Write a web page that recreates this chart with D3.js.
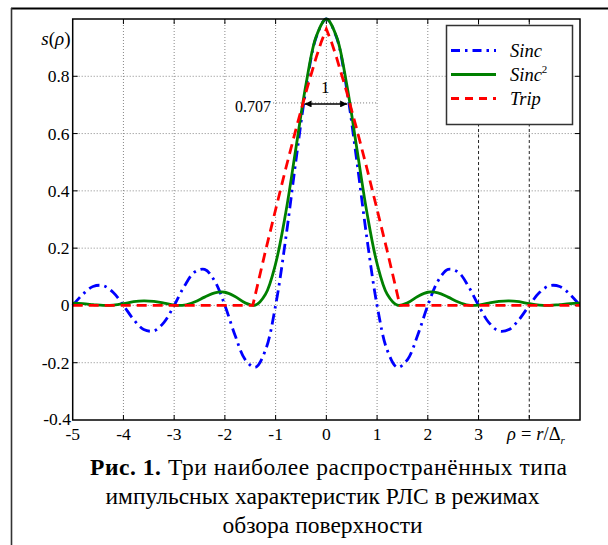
<!DOCTYPE html>
<html>
<head>
<meta charset="utf-8">
<script src="https://cdn.jsdelivr.net/npm/d3@7"></script>
<style>
  body { margin: 0; background: #fff; }
  svg { display: block; }
</style>
</head>
<body>
<svg id="chart" width="608" height="545"></svg>
<script>
// Tick values
const xTickValues = [-5, -4, -3, -2, -1, 0, 1, 2, 3];
const xGridValues = [-4, -3, -2, -1, 0, 1, 2, 3, 4];
const yTickValues = [-0.4, -0.2, 0, 0.2, 0.4, 0.6, 0.8];
const yGridValues = [-0.2, 0, 0.2, 0.4, 0.6, 0.8];

// Sample positions rho = r / Δr
const rho = [-5, -4.8, -4.6, -4.4, -4.2, -4, -3.8, -3.6, -3.4, -3.2, -3, -2.8, -2.6, -2.4, -2.2, -2,
  -1.8, -1.6, -1.4, -1.2, -1, -0.8, -0.6, -0.4, -0.2, 0, 0.2, 0.4, 0.6, 0.8, 1, 1.2, 1.4, 1.6, 1.8,
  2, 2.2, 2.4, 2.6, 2.8, 3, 3.2, 3.4, 3.6, 3.8, 4, 4.2, 4.4, 4.6, 4.8, 5];

// Sinc response
const sincValues = [0, 0.039, 0.066, 0.069, 0.045, 0, -0.049, -0.084, -0.089, -0.059, 0, 0.067, 0.116, 0.126, 0.085, 0,
  -0.104, -0.189, -0.216, -0.156, 0, 0.234, 0.505, 0.757, 0.936, 1, 0.936, 0.757, 0.505, 0.234, 0, -0.156, -0.216, -0.189, -0.104,
  0, 0.085, 0.126, 0.116, 0.067, 0, -0.059, -0.089, -0.084, -0.049, 0, 0.045, 0.069, 0.066, 0.039, 0];

// Sinc^2 response
const sinc2Values = [0.008, 0.006, 0.003, 0.000, 0.001, 0.006, 0.013, 0.016, 0.014, 0.008, 0.001, 0.001, 0.012, 0.029, 0.044, 0.046,
  0.031, 0.009, 0.001, 0.039, 0.146, 0.324, 0.549, 0.773, 0.939, 1, 0.939, 0.773, 0.549, 0.324, 0.146, 0.039, 0.001, 0.009, 0.031,
  0.046, 0.044, 0.029, 0.012, 0.001, 0.001, 0.008, 0.014, 0.016, 0.013, 0.006, 0.001, 0.000, 0.003, 0.006, 0.008];

// Trip response (vertices)
const tripRho = [-5, -1.45, -1.2, -1.0, -0.8, -0.6, -0.4, -0.2, -0.1, 0, 0.1, 0.2, 0.4, 0.6, 0.8, 1.0, 1.2, 1.45, 5];
const tripValues = [0, 0, 0.19, 0.335, 0.478, 0.615, 0.746, 0.866, 0.92, 0.965, 0.92, 0.866, 0.746, 0.615, 0.478, 0.335, 0.19, 0, 0];

// Half-power annotation
const halfLevel = 0.707;
const halfWidthEnds = [-0.43, 0.41];
const halfLineEnds = [-1.05, 1.0];
const widthLabel = "1";

const legendNames = ["Sinc", "Sinc", "Trip"];
const legendSup = ["", "2", ""];

const FONT = "'Liberation Serif', serif";
const svg = d3.select("#chart").style("font-family", FONT);
svg.append("rect").attr("width", 608).attr("height", 545).attr("fill", "#fff");

const plotLeft = 72.7, plotRight = 580, plotTop = 19, plotBottom = 420;
const x = d3.scaleLinear().domain([-5, 5]).range([plotLeft, plotRight]);
const y = d3.scaleLinear().domain([-0.4, 1.0]).range([plotBottom, plotTop]);

function label(sel) {
  return sel.append("text").style("font-family", FONT).attr("fill", "#000");
}

// outer page frame
svg.append("line").attr("x1", 11).attr("x2", 608).attr("y1", 8.5).attr("y2", 8.5)
  .attr("stroke", "#000").attr("stroke-width", 2.2);
svg.append("line").attr("x1", 11.5).attr("x2", 11.5).attr("y1", 8).attr("y2", 545)
  .attr("stroke", "#333").attr("stroke-width", 1.6);

// grid
const grid = svg.append("g");
grid.selectAll("line.vx").data(xGridValues).join("line")
  .attr("x1", d => x(d)).attr("x2", d => x(d)).attr("y1", plotTop).attr("y2", plotBottom)
  .attr("stroke", d => d >= 3 ? "#222" : "#888")
  .attr("stroke-width", 1)
  .attr("stroke-dasharray", d => d >= 3 ? "3,2.5" : "1,2");
grid.selectAll("line.hy").data(yGridValues).join("line")
  .attr("x1", plotLeft).attr("x2", plotRight).attr("y1", d => y(d)).attr("y2", d => y(d))
  .attr("stroke", "#888").attr("stroke-width", 1).attr("stroke-dasharray", "1,2");

// inward tick marks on all four sides
const tk = svg.append("g").attr("stroke", "#000").attr("stroke-width", 1);
xGridValues.forEach(v => {
  tk.append("line").attr("x1", x(v)).attr("x2", x(v)).attr("y1", plotBottom).attr("y2", plotBottom - 5);
  tk.append("line").attr("x1", x(v)).attr("x2", x(v)).attr("y1", plotTop).attr("y2", plotTop + 5);
});
yGridValues.forEach(v => {
  tk.append("line").attr("x1", plotLeft).attr("x2", plotLeft + 5).attr("y1", y(v)).attr("y2", y(v));
  tk.append("line").attr("x1", plotRight).attr("x2", plotRight - 5).attr("y1", y(v)).attr("y2", y(v));
});

// 0.707 reference line
svg.append("line")
  .attr("x1", x(halfLineEnds[0])).attr("x2", x(halfLineEnds[1]))
  .attr("y1", y(halfLevel)).attr("y2", y(halfLevel))
  .attr("stroke", "#777").attr("stroke-width", 1).attr("stroke-dasharray", "1,2");

// curves
const smooth = d3.line().x(d => x(d[0])).y(d => y(d[1])).curve(d3.curveCatmullRom.alpha(0.5));
const straight = d3.line().x(d => x(d[0])).y(d => y(d[1]));
const plot = svg.append("g");
plot.append("path").datum(d3.zip(rho, sincValues)).attr("d", smooth)
  .attr("fill", "none").attr("stroke", "#0000ff").attr("stroke-width", 2.8)
  .attr("stroke-dasharray", "11,5,2.5,5");
plot.append("path").datum(d3.zip(rho, sinc2Values)).attr("d", smooth)
  .attr("fill", "none").attr("stroke", "#008000").attr("stroke-width", 2.8);
plot.append("path").datum(d3.zip(tripRho, tripValues)).attr("d", straight)
  .attr("fill", "none").attr("stroke", "#ff0000").attr("stroke-width", 2.8)
  .attr("stroke-dasharray", "10,6");

// width arrow
const defs = svg.append("defs");
defs.append("marker").attr("id", "ah").attr("viewBox", "0 0 10 10")
  .attr("refX", 10).attr("refY", 5).attr("markerWidth", 9).attr("markerHeight", 7)
  .attr("markerUnits", "userSpaceOnUse").attr("orient", "auto-start-reverse")
  .append("path").attr("d", "M0,0 L10,5 L0,10 Z").attr("fill", "#000");
svg.append("line")
  .attr("x1", x(halfWidthEnds[0])).attr("x2", x(halfWidthEnds[1]))
  .attr("y1", y(halfLevel) + 1).attr("y2", y(halfLevel) + 1)
  .attr("stroke", "#000").attr("stroke-width", 1.5)
  .attr("marker-start", "url(#ah)").attr("marker-end", "url(#ah)");
label(svg).attr("x", x(0) - 1).attr("y", y(halfLevel) - 10)
  .attr("text-anchor", "middle").attr("font-size", 17).text(widthLabel);
label(svg).attr("x", x(halfLineEnds[0]) - 2).attr("y", y(halfLevel) + 9)
  .attr("text-anchor", "end").attr("font-size", 16).text(halfLevel.toFixed(3));

// plot frame
svg.append("rect").attr("x", plotLeft).attr("y", plotTop).attr("width", plotRight - plotLeft).attr("height", plotBottom - plotTop)
  .attr("fill", "none").attr("stroke", "#000").attr("stroke-width", 1.5);

// tick labels
const yl = svg.append("g");
yTickValues.forEach(d => {
  label(yl).attr("x", d === -0.4 ? 71 : 69.5).attr("y", y(d) + (d === -0.4 ? 4.5 : 6))
    .attr("text-anchor", "end").attr("font-size", 17.5)
    .text(d === 0 ? "0" : d3.format(".1f")(d).replace("−", "-"));
});
const xl = svg.append("g");
xTickValues.forEach(d => {
  label(xl).attr("x", x(d)).attr("y", 439.5)
    .attr("text-anchor", "middle").attr("font-size", 17.5)
    .text(String(d));
});

// axis titles
const yt = label(svg).attr("x", 70.5).attr("y", 45).attr("text-anchor", "end").attr("font-size", 19);
yt.append("tspan").attr("font-style", "italic").text("s");
yt.append("tspan").text("(");
yt.append("tspan").attr("font-style", "italic").text("ρ");
yt.append("tspan").text(")");

const xt = label(svg).attr("x", 507).attr("y", 439.5).attr("font-size", 18.5);
xt.append("tspan").attr("font-style", "italic").text("ρ");
xt.append("tspan").attr("dx", 5).text("=");
xt.append("tspan").attr("dx", 5).attr("font-style", "italic").text("r");
xt.append("tspan").text("/Δ");
xt.append("tspan").attr("font-style", "italic").attr("font-size", 11).attr("dy", 4).text("r");

// legend
const lg = svg.append("g");
lg.append("rect").attr("x", 446.5).attr("y", 25.5).attr("width", 126).attr("height", 99)
  .attr("fill", "#fff").attr("stroke", "#333").attr("stroke-width", 1.5);
const legendStyles = [
  { color: "#0000ff", dash: "9,5,2.5,5" },
  { color: "#008000", dash: null },
  { color: "#ff0000", dash: "8,6" }
];
const legendRowY = [50.5, 74.5, 98.5];
legendNames.forEach((name, i) => {
  lg.append("line").attr("x1", 451).attr("x2", 496).attr("y1", legendRowY[i]).attr("y2", legendRowY[i])
    .attr("stroke", legendStyles[i].color).attr("stroke-width", 2.8)
    .attr("stroke-dasharray", legendStyles[i].dash);
  const t = label(lg).attr("x", 510).attr("y", legendRowY[i] + 6)
    .attr("font-size", 18.5).attr("font-style", "italic");
  t.append("tspan").text(name);
  if (legendSup[i]) t.append("tspan").attr("font-size", 11).attr("dy", -8).attr("font-style", "normal").text(legendSup[i]);
});

// caption
const capLines = [
  [{ b: true, s: "Рис. 1." }, { b: false, s: " Три наиболее распространённых типа" }],
  [{ b: false, s: "импульсных характеристик РЛС в режимах" }],
  [{ b: false, s: "обзора поверхности" }]
];
const capY = [475, 504, 533];
const capX = [328.5, 322.5, 322.5];
const capWidth = [477, null, null];
capLines.forEach((parts, i) => {
  const t = label(svg).attr("x", capX[i]).attr("y", capY[i]).attr("text-anchor", "middle").attr("font-size", 23.5);
  if (capWidth[i]) t.attr("textLength", capWidth[i]).attr("lengthAdjust", "spacing");
  parts.forEach(p => t.append("tspan").attr("font-weight", p.b ? "bold" : "normal").text(p.s));
});
</script>
</body>
</html>
